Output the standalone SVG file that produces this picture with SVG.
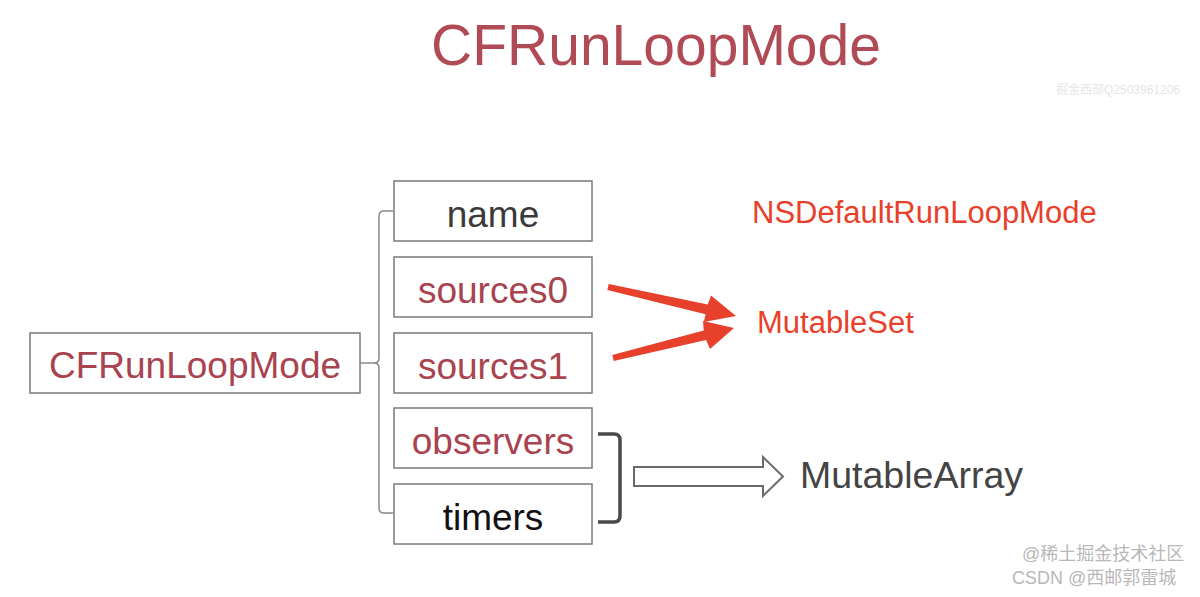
<svg xmlns="http://www.w3.org/2000/svg" width="1200" height="597" viewBox="0 0 1200 597">
<style>
text{font-family:"Liberation Sans","Noto Sans CJK SC",Arial,sans-serif}
.box{fill:#fff;stroke:#7a7a7a;stroke-width:1.5}
.t{font-size:37px;text-anchor:middle}
.red{fill:#a8434f}
.dark{fill:#3a3a3a}
.blk{fill:#111}
.note{font-size:31px;fill:#e8402a}
.br{fill:none;stroke:#8a8a8a;stroke-width:1.5}
.wm{font-size:18px;fill:#b8b8b8}
</style>
<rect width="1200" height="597" fill="#fff"/>
<text x="656" y="65" font-size="57" text-anchor="middle" fill="#b04a54">CFRunLoopMode</text>
<text x="1118" y="94" font-size="12" text-anchor="middle" fill="#e6e6e6">掘金西部Q2503961206</text>

<g id="mode">
<rect class="box" x="30" y="333" width="330" height="60"/>
<text class="t red" x="195" y="378">CFRunLoopMode</text>
</g>
<g id="name">
<rect class="box" x="394" y="181" width="198" height="60"/>
<text class="t dark" x="493" y="227">name</text>
</g>
<g id="sources0">
<rect class="box" x="394" y="257" width="198" height="60"/>
<text class="t red" x="493" y="303">sources0</text>
</g>
<g id="sources1">
<rect class="box" x="394" y="333" width="198" height="60"/>
<text class="t red" x="493" y="379">sources1</text>
</g>
<g id="observers">
<rect class="box" x="394" y="408" width="198" height="60"/>
<text class="t red" x="493" y="454">observers</text>
</g>
<g id="timers">
<rect class="box" x="394" y="484" width="198" height="60"/>
<text class="t blk" x="493" y="530">timers</text>
</g>
<g id="labels">
<text class="note" x="752" y="223">NSDefaultRunLoopMode</text>
<text class="note" x="757" y="333">MutableSet</text>
<text x="800" y="488" font-size="37.5" fill="#444">MutableArray</text>
</g>

<g id="connectors">
<path class="br" d="M393,211 L384,211 Q379,211 379,216 L379,358 Q379,363 374,363 L360,363 M374,363 Q379,363 379,368 L379,508 Q379,513 384,513 L393,513"/>
<polygon fill="#e8412b" points="608.7,284 707.8,304.5 711,295.5 736,316 703.8,322.1 705.6,314.3 607.3,290"/>
<polygon fill="#e8412b" points="613.7,360.9 706.1,340.1 710,349 734,328 703,321 703.7,330.4 612.3,355.1"/>
<path d="M598,434 L614,434 Q620,434 620,440 L620,516 Q620,522 614,522 L598,522" fill="none" stroke="#4a4a4a" stroke-width="3.5"/>
<polygon points="634,467 763,467 763,457 783,476.5 763,496 763,486 634,486" fill="#fff" stroke="#6a6a6a" stroke-width="2"/>
</g>

<text class="wm" x="1022" y="560">@稀土掘金技术社区</text>
<text class="wm" x="1012" y="584" fill="#999">CSDN @西邮郭雷城</text>
</svg>
